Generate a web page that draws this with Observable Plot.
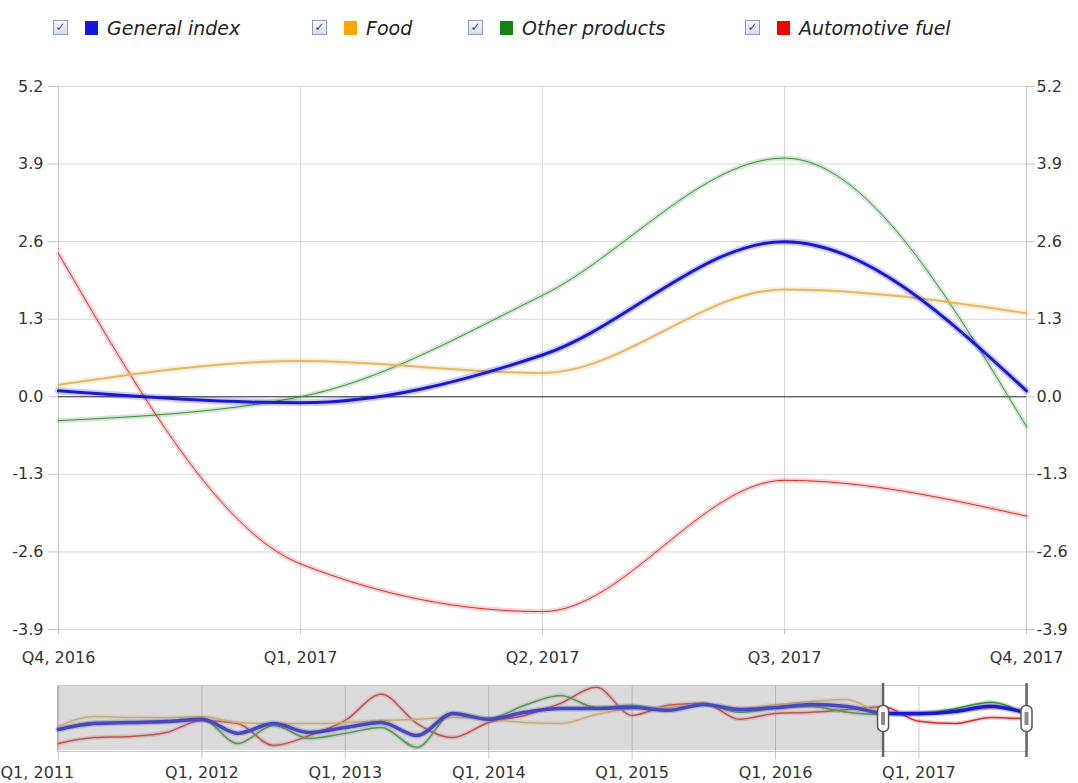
<!DOCTYPE html>
<html><head><meta charset="utf-8">
<script src="https://cdn.jsdelivr.net/npm/d3@7"></script>
<script src="https://cdn.jsdelivr.net/npm/@observablehq/plot@0.6"></script>
<style>
body{margin:0;background:#fff;font-family:"DejaVu Sans",Verdana,sans-serif;}
#wrap{position:relative;width:1078px;height:783px;overflow:hidden;background:#fff;}
#legend{position:absolute;left:0;top:0;width:1078px;height:60px;}
.cb{position:absolute;top:20px;width:13px;height:13px;border:1px solid #8e9bb5;background:linear-gradient(#f4f6fa,#d6dce8);font-size:12px;line-height:13px;text-align:center;color:#3b4d86;font-weight:bold;}
.sw{position:absolute;top:21px;width:13px;height:14px;}
.lt{position:absolute;top:17px;font-style:italic;font-size:19px;color:#222;white-space:nowrap;}
#main{position:absolute;left:0;top:60px;}
#nav{position:absolute;left:0;top:680px;}
</style></head>
<body><div id="wrap"><div id="legend"></div><div id="main"></div><div id="nav"></div></div>
<script>
const quarters = ["Q1, 2011","Q2, 2011","Q3, 2011","Q4, 2011","Q1, 2012","Q2, 2012","Q3, 2012","Q4, 2012",
  "Q1, 2013","Q2, 2013","Q3, 2013","Q4, 2013","Q1, 2014","Q2, 2014","Q3, 2014","Q4, 2014",
  "Q1, 2015","Q2, 2015","Q3, 2015","Q4, 2015","Q1, 2016","Q2, 2016","Q3, 2016","Q4, 2016",
  "Q1, 2017","Q2, 2017","Q3, 2017","Q4, 2017"];
const seriesNames = ["General index","Food","Other products","Automotive fuel"];
const legendColors = ["#1414e6","#ffa500","#148214","#f00000"];
const lineColors = ["#1a1acc","#e3b866","#3a8f3a","#d23030"];
const general = [-5.7,-3.6,-3.2,-2.9,-2.1,-7.1,-3.6,-6.8,-5.0,-3.2,-7.9,0.0,-2.1,0.4,1.8,1.8,2.1,1.1,3.2,1.4,2.1,3.2,2.5,0.1,-0.1,0.7,2.6,0.1];
const food    = [-4.5,-1.1,-1.4,-1.4,-1.1,-3.2,-3.6,-3.6,-3.2,-2.5,-2.1,-1.4,-2.1,-3.2,-3.6,-0.4,1.8,2.1,3.2,1.8,3.2,4.3,5.0,0.2,0.6,0.4,1.8,1.4];
const other   = [-5.7,-3.2,-3.2,-2.9,-2.1,-10.7,-4.3,-8.9,-7.1,-5.0,-12.1,0.0,-1.8,2.9,6.4,2.1,2.9,1.1,3.2,0.4,1.8,2.5,0.4,-0.4,0.0,1.7,4.0,-0.5];
const fuel    = [-10.7,-8.6,-8.2,-6.8,-2.5,-3.6,-11.4,-7.9,-2.5,6.8,-3.6,-8.6,-3.2,-0.7,3.6,9.3,-0.7,2.9,3.6,-2.1,0.0,0.4,1.4,2.4,-2.8,-3.6,-1.4,-2.0];
const yTicks = [-3.9,-2.6,-1.3,0,1.3,2.6,3.9,5.2];
const mainStart = 23, mainEnd = 27;
const navTicks = [0,4,8,12,16,20,24];

const allSeries = [general, food, other, fuel];

// legend
const legendLefts = [53,312,468,745];
const leg = document.getElementById("legend");
seriesNames.forEach((n,k)=>{
  const L = legendLefts[k];
  leg.insertAdjacentHTML("beforeend",
    `<div class="cb" style="left:${L}px">&#10003;</div><div class="sw" style="left:${L+32}px;background:${legendColors[k]}"></div><div class="lt" style="left:${L+54}px">${n}</div>`);
});

const rows = (arr, from, to) => arr.slice(from, to+1).map((v,j)=>({i: from+j, v}));

function seriesMarks(from, to, widths, halo) {
  const order = [3,2,1,0];
  const marks = [];
  for (const k of order) {
    const data = rows(allSeries[k], from, to);
    marks.push(Plot.line(data, {x:"i", y:"v", curve:"monotone-x", stroke:lineColors[k], strokeOpacity:0.22, strokeWidth:widths[k]+halo}));
    marks.push(Plot.line(data, {x:"i", y:"v", curve:"monotone-x", stroke:lineColors[k], strokeWidth:widths[k]}));
  }
  return marks;
}

const main = Plot.plot({
  width:1078, height:620, marginTop:26, marginBottom:51, marginLeft:58, marginRight:52,
  style:{fontFamily:"DejaVu Sans, Verdana, sans-serif", fontSize:"16px", color:"#333", background:"transparent", overflow:"visible"},
  x:{domain:[mainStart, mainEnd], axis:null},
  y:{domain:[yTicks[0], yTicks[yTicks.length-1]], axis:null},
  marks:[
    Plot.ruleY(yTicks, {stroke:"#d8d8d8"}),
    Plot.ruleX(d3.range(mainStart+1, mainEnd), {stroke:"#d8d8d8"}),
    Plot.ruleX([mainStart, mainEnd], {stroke:"#c4c4c4", insetBottom:-5}),
    Plot.axisY(yTicks, {anchor:"left", label:null, tickSize:10, tickPadding:5, tickFormat:d=>d.toFixed(1), stroke:"#c4c4c4", fill:"#333"}),
    Plot.axisY(yTicks, {anchor:"right", label:null, tickSize:8, tickPadding:2, tickFormat:d=>d.toFixed(1), stroke:"#c4c4c4", fill:"#333"}),
    Plot.axisX(d3.range(mainStart, mainEnd+1), {anchor:"bottom", label:null, tickSize:5, tickPadding:17, tickFormat:i=>quarters[i], stroke:"#c4c4c4", fill:"#333"}),
    Plot.ruleY([0], {stroke:"#333"}),
    ...seriesMarks(mainStart, mainEnd, [3,2,1,1], 4)
  ]
});
document.getElementById("main").appendChild(main);

const roundRect = (w,h,r)=>({draw(ctx){
  const x0=-w/2,y0=-h/2,x1=w/2,y1=h/2;
  ctx.moveTo(x0+r,y0); ctx.lineTo(x1-r,y0); ctx.arcTo(x1,y0,x1,y0+r,r);
  ctx.lineTo(x1,y1-r); ctx.arcTo(x1,y1,x1-r,y1,r); ctx.lineTo(x0+r,y1);
  ctx.arcTo(x0,y1,x0,y1-r,r); ctx.lineTo(x0,y0+r); ctx.arcTo(x0,y0,x0+r,y0,r); ctx.closePath();
}});

const nav = Plot.plot({
  width:1078, height:103, marginTop:6, marginBottom:33, marginLeft:58, marginRight:52,
  style:{fontFamily:"DejaVu Sans, Verdana, sans-serif", fontSize:"16px", color:"#333", background:"transparent", overflow:"visible"},
  x:{domain:[0, quarters.length-1], axis:null},
  y:{domain:[-13.2, 9.6], axis:null},
  marks:[
    Plot.frame({fill:"white", stroke:"#c8c8c8", inset:-1}),
    Plot.ruleX(navTicks, {stroke:"#c8c8c8", insetBottom:-9}),
    ...seriesMarks(0, quarters.length-1, [3.5,1.5,1.5,1.5], 3),
    Plot.rect([{a:0,b:mainStart}], {x1:"a", x2:"b", fill:"#9c9c9c", fillOpacity:0.36, insetLeft:-1}),
    Plot.ruleX([mainStart, mainEnd], {stroke:"#666", strokeWidth:2.5, insetTop:-3, insetBottom:-7}),
    Plot.dot([mainStart, mainEnd], {x:d=>d, symbol:roundRect(11,26,5), fill:"white", stroke:"#555", strokeWidth:1.5, r:5}),
    Plot.dot([mainStart, mainEnd], {x:d=>d, symbol:roundRect(4,13,0.5), fill:"#888", stroke:"none", r:5}),
    Plot.text(navTicks.slice(1), {x:d=>d, text:d=>quarters[d], frameAnchor:"bottom", dy:27, fill:"#333"}),
    Plot.text(navTicks.slice(0,1), {x:d=>d, text:d=>quarters[d], frameAnchor:"bottom", dy:27, dx:-58, textAnchor:"start", fill:"#333"})
  ]
});
document.getElementById("nav").appendChild(nav);
</script></body></html>
